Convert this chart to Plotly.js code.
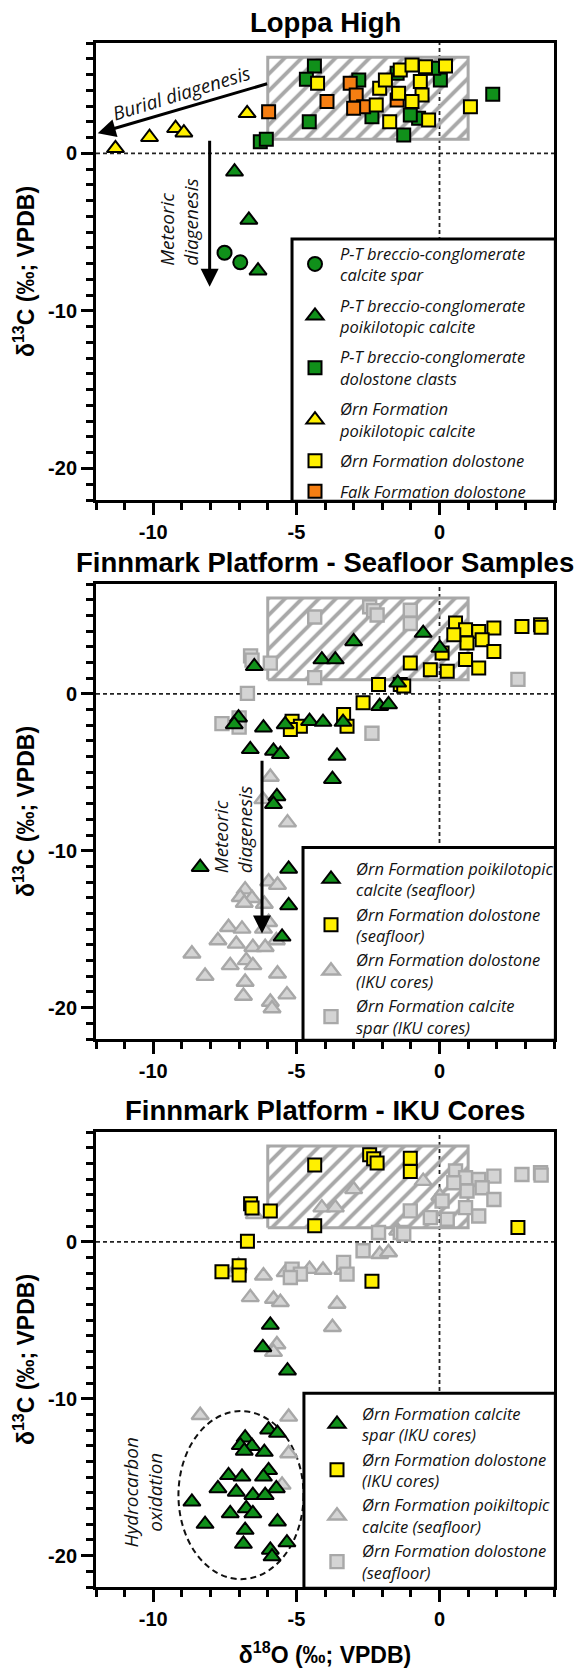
<!DOCTYPE html>
<html>
<head>
<meta charset="utf-8">
<script src="https://cdn.plot.ly/plotly-3.0.1.min.js"></script>
<style>html,body{margin:0;padding:0;background:#fff;}#chart{width:580px;height:1673px;}</style>
</head>
<body>
<div id="chart"></div>
<script>
// ---------------- DATA (δ18O = x, δ13C = y, ‰ VPDB) ----------------
// Loppa High
const lhSparO  = [-7.51, -6.96];
const lhSparC  = [-6.31, -6.92];
const lhPoikO  = [-7.16, -6.66, -6.34];
const lhPoikC  = [-1.17, -4.23, -7.45];
const lhClastO = [-6.26, -6.05, -4.37, -4.65, -4.55, -2.82, -2.36, -1.25, -1.48, -0.73, -1.02, 0.03, -0.20, 1.86];
const lhClastC = [0.74, 0.89, 5.54, 4.70, 2.01, 4.65, 2.32, 1.16, 5.08, 2.22, 2.43, 4.65, 5.40, 3.75];
const lhOrnPoikO = [-11.32, -10.13, -9.22, -8.93, -6.72];
const lhOrnPoikC = [0.32, 1.02, 1.59, 1.31, 2.54];
const lhOrnDoloO = [-4.26, -2.09, -2.21, -1.89, -1.74, -1.43, -1.37, -0.96, -0.49, -0.67, -0.61, -0.96, -0.38, 0.21, 1.08];
const lhOrnDoloC = [4.44, 4.13, 3.07, 4.65, 2.01, 3.81, 5.29, 5.61, 5.50, 4.55, 3.70, 3.28, 2.11, 5.54, 2.96];
const lhFalkO  = [-5.97, -3.93, -3.12, -2.91, -2.65, -3.00, -1.48];
const lhFalkC  = [2.64, 3.28, 4.44, 3.70, 2.96, 2.86, 3.38];

// Finnmark Platform – seafloor samples
const sfPoikO = [-3.00, -4.11, -3.64, -6.47, -0.57, 0.01, -1.46, -2.09, -1.78, -7.02, -7.17, -6.15, -5.39, -4.54, -4.07, -3.37, -6.61, -5.80, -5.56, -3.58, -3.74, -8.36, -5.68, -5.80, -5.27, -5.27, -5.50];
const sfPoikC = [3.34, 2.18, 2.18, 1.75, 3.87, 2.92, 0.70, -0.79, -0.68, -1.52, -1.95, -2.16, -1.95, -1.74, -1.80, -1.80, -3.54, -3.64, -3.85, -3.96, -5.44, -11.05, -6.54, -7.03, -11.16, -13.49, -15.49];
const sfDoloO = [0.56, 0.91, 1.37, 1.90, 0.96, 1.49, 0.91, 1.37, 1.90, 0.50, 0.27, -0.32, -1.02, 0.09, 2.88, 3.53, 3.55, -2.13, -1.37, -1.25, -2.67, -3.35, -3.23, -5.15, -4.86, -5.21];
const sfDoloC = [4.51, 4.08, 3.97, 4.19, 3.24, 3.45, 2.18, 1.65, 2.70, 3.77, 1.44, 1.54, 1.97, 2.60, 4.29, 4.40, 4.25, 0.59, 0.59, 0.50, -0.57, -1.31, -2.06, -1.74, -2.06, -2.27];

// Finnmark Platform – IKU cores
const ikuSqO = [-4.36, -2.44, -2.30, -2.18, -1.02, -1.02, -6.60, -6.55, -5.91, -4.36, -6.71, -7.60, -7.00, -7.00, -2.36, 2.74];
const ikuSqC = [4.90, 5.55, 5.30, 5.02, 5.33, 4.48, 2.42, 2.15, 1.96, 1.03, 0.03, -1.90, -1.53, -2.12, -2.51, 0.92];
const ikuTriO = [-5.91, -6.17, -5.31, -5.97, -5.66, -6.79, -6.96, -6.55, -6.82, -6.12, -5.97, -7.37, -6.90, -6.15, -7.74, -7.10, -5.70, -6.52, -6.09, -8.65, -6.75, -6.52, -7.31, -8.19, -5.66, -6.79, -6.85, -5.91, -5.33, -5.85];
const ikuTriC = [-5.30, -6.73, -8.21, -11.97, -12.19, -12.48, -12.97, -13.03, -13.33, -13.40, -14.56, -14.88, -14.98, -14.98, -15.72, -15.94, -15.72, -16.15, -16.15, -16.57, -16.99, -17.31, -17.31, -17.99, -17.84, -18.37, -19.26, -19.64, -19.17, -20.06];

// Permian seawater field (hatched box)
const seawaterO = [-6.0, 1.0];
const seawaterC = [0.9, 6.1];

// Axis ticks
const xTickVals = [-10, -5, 0];
const xTickText = ['-10', '-5', '0'];
const yTickVals = [-20, -10, 0];
const yTickText = ['-20', '-10', '0'];

const panelTitles = ['Loppa High', 'Finnmark Platform - Seafloor Samples', 'Finnmark Platform - IKU Cores'];

// ---------------- STYLE / LAYOUT ----------------
const W = 580, H = 1673, ML = 96, MR = 26, MT = 43, MB = 86;
const plotW = W - ML - MR, plotH = H - MT - MB;
const px2y = py => (H - MB - py) / plotH;
const px2x = px => (px - ML) / plotW;
const panels = [{top: 43, bottom: 500, title: 23}, {top: 584, bottom: 1039, title: 562}, {top: 1132, bottom: 1587, title: 1110}];

const GREEN = '#10901a', YELLOW = '#fff000', ORANGE = '#f57e12', GREYF = '#d4d4d4', GREYL = '#a8a8a8';
const BLK = {color: '#000', width: 2};
const GRL = {color: GREYL, width: 2.4};
const SQ = 13, TRI = 15, CIR = 14;

const tickFont = {family: 'Liberation Sans, Arial, sans-serif', size: 20, weight: 'bold', color: '#000'};
const titleFont = {family: 'Liberation Sans, Arial, sans-serif', size: 23, weight: 'bold', color: '#000'};
const legFont = {family: 'Open Sans, sans-serif', size: 16.5, style: 'italic', color: '#111'};
const annFont = {family: 'Open Sans, sans-serif', size: 19, style: 'italic', color: '#111'};

function pts(xs, ys, n, name, symbol, size, fill, line, legend, rank) {
  return {type: 'scatter', mode: 'markers', x: xs, y: ys, name: name,
    xaxis: 'x' + (n === 1 ? '' : n), yaxis: 'y' + (n === 1 ? '' : n),
    marker: {symbol: symbol, size: size, color: fill, line: line},
    legend: legend, legendgroup: legend + rank, legendrank: rank, hoverinfo: 'x+y+name'};
}
function box(n) {
  return {type: 'scatter', mode: 'lines', showlegend: false, hoverinfo: 'skip',
    xaxis: 'x' + (n === 1 ? '' : n), yaxis: 'y' + (n === 1 ? '' : n),
    x: [seawaterO[0], seawaterO[1], seawaterO[1], seawaterO[0], seawaterO[0]],
    y: [seawaterC[0], seawaterC[0], seawaterC[1], seawaterC[1], seawaterC[0]],
    fill: 'toself', fillcolor: 'rgba(0,0,0,0)',
    fillpattern: {shape: '/', fgcolor: GREYL, bgcolor: 'rgba(0,0,0,0)', size: 12, solidity: 0.32},
    line: {color: GREYL, width: 3}};
}

const traces = [
  box(1),
  pts(lhClastO, lhClastC, 1, 'P-T breccio-conglomerate<br>dolostone clasts', 'square', SQ, GREEN, BLK, 'legend', 3),
  pts(lhFalkO, lhFalkC, 1, 'Falk Formation dolostone', 'square', SQ, ORANGE, BLK, 'legend', 6),
  pts(lhPoikO, lhPoikC, 1, 'P-T breccio-conglomerate<br>poikilotopic calcite', 'triangle-up', TRI, GREEN, BLK, 'legend', 2),
  pts(lhSparO, lhSparC, 1, 'P-T breccio-conglomerate<br>calcite spar', 'circle', CIR, GREEN, BLK, 'legend', 1),
  pts(lhOrnPoikO, lhOrnPoikC, 1, 'Ørn Formation<br>poikilotopic calcite', 'triangle-up', TRI, YELLOW, BLK, 'legend', 4),
  pts(lhOrnDoloO, lhOrnDoloC, 1, 'Ørn Formation dolostone', 'square', SQ, YELLOW, BLK, 'legend', 5),

  box(2),
  pts(ikuTriO, ikuTriC, 2, 'Ørn Formation dolostone<br>(IKU cores)', 'triangle-up', TRI, GREYF, GRL, 'legend2', 3),
  pts(ikuSqO, ikuSqC, 2, 'Ørn Formation calcite<br>spar (IKU cores)', 'square', SQ, GREYF, GRL, 'legend2', 4),
  pts(sfDoloO, sfDoloC, 2, 'Ørn Formation dolostone<br>(seafloor)', 'square', SQ, YELLOW, BLK, 'legend2', 2),
  pts(sfPoikO, sfPoikC, 2, 'Ørn Formation poikilotopic<br>calcite (seafloor)', 'triangle-up', TRI, GREEN, BLK, 'legend2', 1),

  box(3),
  pts(sfPoikO, sfPoikC, 3, 'Ørn Formation poikiltopic<br>calcite (seafloor)', 'triangle-up', TRI, GREYF, GRL, 'legend3', 3),
  pts(sfDoloO, sfDoloC, 3, 'Ørn Formation dolostone<br>(seafloor)', 'square', SQ, GREYF, GRL, 'legend3', 4),
  pts(ikuSqO, ikuSqC, 3, 'Ørn Formation dolostone<br>(IKU cores)', 'square', SQ, YELLOW, BLK, 'legend3', 2),
  pts(ikuTriO, ikuTriC, 3, 'Ørn Formation calcite<br>spar (IKU cores)', 'triangle-up', TRI, GREEN, BLK, 'legend3', 1)
];

function xAxis(n, withTitle) {
  const a = {range: [-12, 4], anchor: 'y' + (n === 1 ? '' : n), domain: [0, 1],
    showline: true, mirror: true, linewidth: 3, linecolor: '#000',
    tickmode: 'array', tickvals: xTickVals, ticktext: xTickText,
    ticks: 'outside', ticklen: 12, tickwidth: 3, tickcolor: '#000',
    minor: {tickmode: 'linear', tick0: 0, dtick: 1, ticks: 'outside', ticklen: 7, tickwidth: 3, tickcolor: '#000', showgrid: false},
    showgrid: false, zeroline: false, tickfont: tickFont, fixedrange: true};
  if (withTitle) a.title = {text: 'δ<sup>18</sup>O (‰; VPDB)', font: titleFont, standoff: 18};
  return a;
}
function yAxis(n, p) {
  return {range: [-22, 7], anchor: 'x' + (n === 1 ? '' : n), domain: [px2y(p.bottom), px2y(p.top)],
    showline: true, mirror: true, linewidth: 3, linecolor: '#000',
    tickmode: 'array', tickvals: yTickVals, ticktext: yTickText,
    ticks: 'outside', ticklen: 12, tickwidth: 3, tickcolor: '#000',
    minor: {tickmode: 'linear', tick0: 0, dtick: 1, ticks: 'outside', ticklen: 7, tickwidth: 3, tickcolor: '#000', showgrid: false},
    showgrid: false, zeroline: false, tickfont: tickFont, fixedrange: true,
    title: {text: 'δ<sup>13</sup>C (‰; VPDB)', font: titleFont, standoff: 8}};
}

const shapes = [];
const annotations = [];
[1, 2, 3].forEach(n => {
  const xs = 'x' + (n === 1 ? '' : n), ys = 'y' + (n === 1 ? '' : n);
  shapes.push({type: 'line', xref: xs, yref: ys + ' domain', x0: 0, x1: 0, y0: 0, y1: 1, layer: 'below', line: {color: '#222', width: 1.8, dash: '4px,3px'}});
  shapes.push({type: 'line', xref: xs + ' domain', yref: ys, x0: 0, x1: 1, y0: 0, y1: 0, layer: 'below', line: {color: '#222', width: 1.8, dash: '4px,3px'}});
});
// legend frames
const legendBoxes = [{x0: 0.428, y1: 0.571}, {x0: 0.452, y1: 0.421}, {x0: 0.454, y1: 0.426}];
legendBoxes.forEach((b, i) => {
  const s = i === 0 ? '' : (i + 1);
  shapes.push({type: 'rect', xref: 'x' + s + ' domain', yref: 'y' + s + ' domain', x0: b.x0, x1: 1.003, y0: -0.003, y1: b.y1,
    fillcolor: '#fff', line: {color: '#000', width: 3}, layer: 'above'});
});
// hydrocarbon oxidation ellipse
shapes.push({type: 'circle', xref: 'x3', yref: 'y3', x0: -9.12, x1: -4.75, y0: -21.5, y1: -10.79, layer: 'below', line: {color: '#111', width: 2, dash: '6px,4px'}});

panels.forEach((p, i) => {
  annotations.push({xref: 'paper', yref: 'paper', x: 0.5, y: px2y(p.title), xanchor: 'center', yanchor: 'middle', showarrow: false,
    text: panelTitles[i], font: {family: 'Liberation Sans, Arial, sans-serif', size: 27.5, weight: 'bold', color: '#000'}});
});
const arrowStyle = {showarrow: true, arrowhead: 2, arrowsize: 1.2, arrowwidth: 3, arrowcolor: '#000', standoff: 0, startstandoff: 0, text: ''};
annotations.push(Object.assign({xref: 'x', yref: 'y', axref: 'x', ayref: 'y', x: -11.94, y: 1.27, ax: -5.97, ay: 4.44}, arrowStyle));
annotations.push({xref: 'x', yref: 'y', x: -9.0, y: 3.85, text: 'Burial diagenesis', textangle: -17, showarrow: false, font: annFont});
annotations.push(Object.assign({xref: 'x', yref: 'y', axref: 'x', ayref: 'y', x: -8.03, y: -8.47, ax: -8.03, ay: 0.89}, arrowStyle));
annotations.push({xref: 'x', yref: 'y', x: -9.09, y: -4.39, text: 'Meteoric<br>diagenesis', textangle: -90, align: 'left', showarrow: false, font: annFont});
annotations.push(Object.assign({xref: 'x2', yref: 'y2', axref: 'x2', ayref: 'y2', x: -6.2, y: -15.28, ax: -6.2, ay: -4.17}, arrowStyle));
annotations.push({xref: 'x2', yref: 'y2', x: -7.2, y: -8.67, text: 'Meteoric<br>diagenesis', textangle: -90, align: 'left', showarrow: false, font: annFont});
annotations.push({xref: 'x3', yref: 'y3', x: -10.34, y: -16.0, text: 'Hydrocarbon<br>oxidation', textangle: -90, align: 'center', showarrow: false, font: annFont});

function legendCfg(xpx, ypx, gap) {
  return {x: px2x(xpx), y: px2y(ypx), xanchor: 'left', yanchor: 'top', bgcolor: 'rgba(0,0,0,0)', borderwidth: 0,
    font: legFont, tracegroupgap: gap, itemwidth: 40, itemclick: false, itemdoubleclick: false};
}

const layout = {
  width: W, height: H, margin: {l: ML, r: MR, t: MT, b: MB},
  paper_bgcolor: '#fff', plot_bgcolor: '#fff', showlegend: true,
  xaxis: xAxis(1, false), yaxis: yAxis(1, panels[0]),
  xaxis2: xAxis(2, false), yaxis2: yAxis(2, panels[1]),
  xaxis3: xAxis(3, true), yaxis3: yAxis(3, panels[2]),
  legend: legendCfg(290, 236, 6),
  legend2: legendCfg(306, 851, 0),
  legend3: legendCfg(312, 1396, 0),
  shapes: shapes, annotations: annotations
};

Plotly.newPlot('chart', traces, layout, {displayModeBar: false, staticPlot: true});
</script>
</body>
</html>
